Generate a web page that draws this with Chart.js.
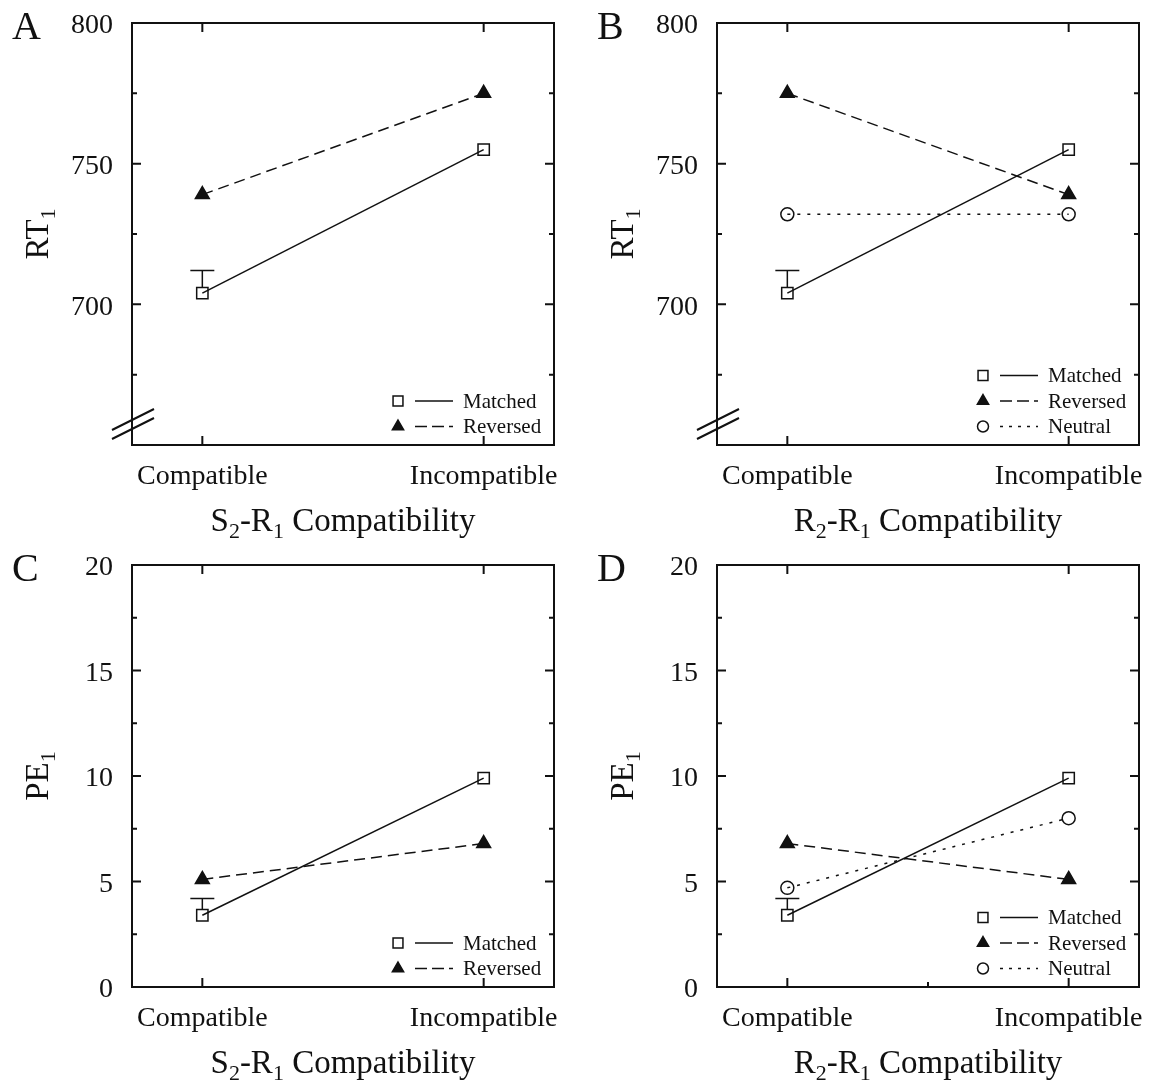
<!DOCTYPE html>
<html>
<head>
<meta charset="utf-8">
<script src="https://cdn.jsdelivr.net/npm/chart.js@4.4.1/dist/chart.umd.min.js"></script>
<style>
  body { margin: 0; background: #fff; }
  #wrap { position: relative; width: 1151px; height: 1081px; }
  canvas { position: absolute; }
</style>
</head>
<body>
<div id="wrap">
  <canvas id="a" width="575" height="542" style="left:0;top:0"></canvas>
  <canvas id="b" width="566" height="542" style="left:585px;top:0"></canvas>
  <canvas id="c" width="575" height="539" style="left:0;top:542px"></canvas>
  <canvas id="d" width="566" height="539" style="left:585px;top:542px"></canvas>
</div>
<script>
const categories = ['Compatible', 'Incompatible']

// RT1 in ms
const rtMatched = [704, 755]
const rtReversedS2 = [739, 775]
const rtReversedR2 = [775, 739]
const rtNeutral = [732, 732]
const rtMatchedErr = [712, null]
const rtLabels = [700, 750, 800]

// PE1 in percent
const peMatched = [3.4, 9.9]
const peReversedS2 = [5.1, 6.8]
const peReversedR2 = [6.8, 5.1]
const peNeutral = [4.7, 8.0]
const peMatchedErr = [4.2, null]
const peLabels = [0, 5, 10, 15, 20]

const ink = '#111'
const serif = "'Liberation Serif', 'Times New Roman', serif"

const styles = {
    Matched: { pointStyle: 'rect', dash: [], legendDash: [], fill: 'rgba(0,0,0,0)', r: 8, lr: 7 },
    Reversed: { pointStyle: 'triangle', dash: [11, 6], legendDash: [12, 5], fill: ink, r: 8, lr: 6.5 },
    Neutral: { pointStyle: 'circle', dash: [3, 7], legendDash: [3, 6], fill: 'rgba(0,0,0,0)', r: 6.5, lr: 5.5 }
}

// draws text with _1 style subscripts, centred on x
function drawRich(ctx, text, x, y, size) {
    const parts = text.split(/_(\d)/)
    const sub = Math.round(size * 0.68)
    let w = 0
    parts.forEach((p, i) => {
        ctx.font = (i % 2 ? sub : size) + 'px ' + serif
        w += ctx.measureText(p).width
    })
    let cx = x - w / 2
    ctx.textAlign = 'left'
    ctx.textBaseline = 'alphabetic'
    parts.forEach((p, i) => {
        ctx.font = (i % 2 ? sub : size) + 'px ' + serif
        ctx.fillText(p, cx, i % 2 ? y + size * 0.2 : y)
        cx += ctx.measureText(p).width
    })
}

const frame = {
    id: 'frame',
    afterDatasetsDraw(chart) {
        // error bars
        const { ctx, scales: { x, y } } = chart
        ctx.save()
        ctx.strokeStyle = ink
        ctx.lineWidth = 1.5
        chart.data.datasets.forEach(ds => {
            if (!ds.errorTop) return
            ds.errorTop.forEach((e, i) => {
                if (e == null) return
                const px = x.getPixelForValue(ds.data[i].x)
                const py = y.getPixelForValue(ds.data[i].y)
                const pe = y.getPixelForValue(e)
                ctx.beginPath()
                ctx.moveTo(px, py - 6)
                ctx.lineTo(px, pe)
                ctx.moveTo(px - 12, pe)
                ctx.lineTo(px + 12, pe)
                ctx.stroke()
            })
        })
        ctx.restore()
    },
    afterDraw(chart, args, o) {
        const { ctx, chartArea: a, scales: { x, y } } = chart
        ctx.save()
        ctx.strokeStyle = ink
        ctx.fillStyle = ink
        ctx.lineWidth = 2
        ctx.strokeRect(a.left, a.top, a.right - a.left, a.bottom - a.top)

        ctx.beginPath()
        for (const t of y.ticks) {
            const py = y.getPixelForValue(t.value)
            const len = t.label ? 9 : 5
            ctx.moveTo(a.left, py); ctx.lineTo(a.left + len, py)
            ctx.moveTo(a.right, py); ctx.lineTo(a.right - len, py)
        }
        for (const t of x.ticks) {
            const px = x.getPixelForValue(t.value)
            ctx.moveTo(px, a.bottom); ctx.lineTo(px, a.bottom - 9)
            ctx.moveTo(px, a.top); ctx.lineTo(px, a.top + 9)
        }
        for (const v of o.minorX || []) {
            const px = x.getPixelForValue(v)
            ctx.moveTo(px, a.bottom); ctx.lineTo(px, a.bottom - 5)
        }
        if (o.axisBreak) {
            for (const yc of [a.bottom - 25, a.bottom - 16]) {
                ctx.moveTo(a.left - 20, yc + 10)
                ctx.lineTo(a.left + 22, yc - 11)
            }
        }
        ctx.stroke()

        // panel letter and axis titles
        ctx.font = '40px ' + serif
        ctx.textAlign = 'left'
        ctx.textBaseline = 'alphabetic'
        ctx.fillText(o.letter, a.left - 120, a.top + 16)
        drawRich(ctx, o.xTitle, (a.left + a.right) / 2, a.bottom + 86, 33)
        ctx.save()
        ctx.translate(a.left - 84, (a.top + a.bottom) / 2)
        ctx.rotate(-Math.PI / 2)
        drawRich(ctx, o.yTitle, 0, 0, 33)
        ctx.restore()

        // legend inside bottom right
        const sets = chart.data.datasets
        sets.forEach((ds, i) => {
            const st = styles[ds.label]
            const ly = a.bottom - 18.5 - (sets.length - 1 - i) * 25.5
            ctx.lineWidth = 1.5
            ctx.fillStyle = st.fill
            Chart.helpers.drawPoint(ctx, { pointStyle: st.pointStyle, radius: st.lr, borderWidth: 1.5, rotation: 0 }, a.right - 156, ly)
            ctx.setLineDash(st.legendDash)
            ctx.beginPath()
            ctx.moveTo(a.right - 139, ly)
            ctx.lineTo(a.right - 101, ly)
            ctx.stroke()
            ctx.setLineDash([])
            ctx.fillStyle = ink
            ctx.font = '21px ' + serif
            ctx.textBaseline = 'middle'
            ctx.fillText(ds.label, a.right - 91, ly + 1)
        })
        ctx.restore()
    }
}

function makeChart(id, series, yRange, labels, panel) {
    const cv = document.getElementById(id)
    const W = cv.width, H = cv.height
    new Chart(cv, {
        type: 'scatter',
        data: {
            datasets: series.map(s => {
                const st = styles[s.label]
                return {
                    label: s.label,
                    data: s.values.map((v, i) => ({ x: i + 1, y: v })),
                    errorTop: s.err,
                    showLine: true,
                    borderColor: ink,
                    borderWidth: 1.5,
                    borderDash: st.dash,
                    pointStyle: st.pointStyle,
                    pointRadius: st.r,
                    pointBorderWidth: 1.5,
                    pointBorderColor: ink,
                    pointBackgroundColor: st.fill
                }
            })
        },
        options: {
            animation: false,
            responsive: false,
            devicePixelRatio: 1,
            layout: { padding: { top: 23, right: W - 554, left: 0, bottom: 0 } },
            plugins: {
                legend: { display: false },
                tooltip: { enabled: false },
                frame: panel
            },
            scales: {
                x: {
                    type: 'linear',
                    min: 0.75,
                    max: 2.25,
                    afterBuildTicks: s => { s.ticks = categories.map((c, i) => ({ value: i + 1 })) },
                    afterFit: s => {
                        s.height = H - 445
                        s.paddingLeft = 0
                        s.paddingRight = 0
                    },
                    grid: { display: false, drawTicks: false },
                    border: { display: false },
                    ticks: {
                        padding: 15,
                        maxRotation: 0,
                        color: ink,
                        font: { family: serif, size: 28 },
                        callback: v => categories[v - 1]
                    }
                },
                y: {
                    min: yRange[0],
                    max: yRange[1],
                    afterFit: s => {
                        s.width = 132
                        s.paddingTop = 0
                        s.paddingBottom = 0
                    },
                    grid: { display: false, drawTicks: false },
                    border: { display: false },
                    ticks: {
                        stepSize: yRange[2],
                        padding: 19,
                        labelOffset: 3,
                        color: ink,
                        autoSkip: false,
                        font: { family: serif, size: 28 },
                        callback: v => labels.includes(v) ? String(v) : ''
                    }
                }
            }
        },
        plugins: [frame]
    })
}

makeChart('a', [
    { label: 'Matched', values: rtMatched, err: rtMatchedErr },
    { label: 'Reversed', values: rtReversedS2 }
], [650, 800, 25], rtLabels, { letter: 'A', xTitle: 'S_2-R_1 Compatibility', yTitle: 'RT_1', axisBreak: true })

makeChart('b', [
    { label: 'Matched', values: rtMatched, err: rtMatchedErr },
    { label: 'Reversed', values: rtReversedR2 },
    { label: 'Neutral', values: rtNeutral }
], [650, 800, 25], rtLabels, { letter: 'B', xTitle: 'R_2-R_1 Compatibility', yTitle: 'RT_1', axisBreak: true })

makeChart('c', [
    { label: 'Matched', values: peMatched, err: peMatchedErr },
    { label: 'Reversed', values: peReversedS2 }
], [0, 20, 2.5], peLabels, { letter: 'C', xTitle: 'S_2-R_1 Compatibility', yTitle: 'PE_1' })

makeChart('d', [
    { label: 'Matched', values: peMatched, err: peMatchedErr },
    { label: 'Reversed', values: peReversedR2 },
    { label: 'Neutral', values: peNeutral }
], [0, 20, 2.5], peLabels, { letter: 'D', xTitle: 'R_2-R_1 Compatibility', yTitle: 'PE_1', minorX: [1.5] })
</script>
</body>
</html>
